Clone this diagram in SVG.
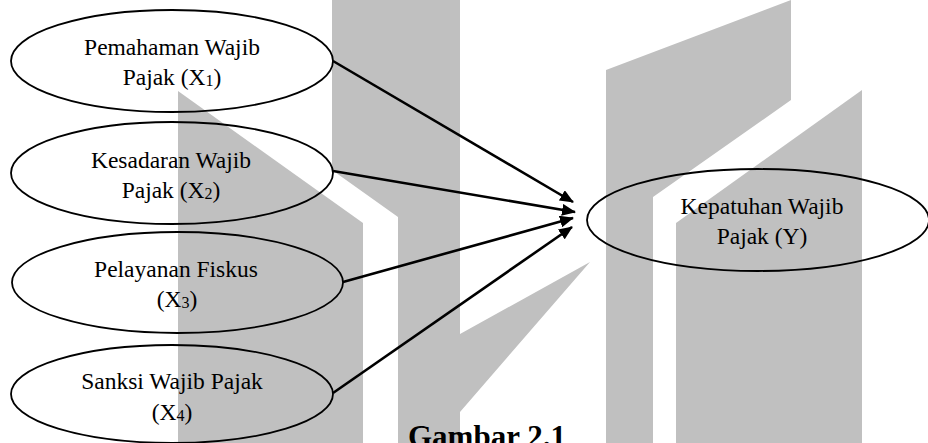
<svg xmlns="http://www.w3.org/2000/svg" width="928" height="443" viewBox="0 0 928 443">
<style>
.wm{fill:#c0c0c0;stroke:none}
.node ellipse{fill:none;stroke:#000;stroke-width:1.8}
.node text{font-family:"Liberation Serif","Times New Roman",serif;font-size:23.5px;fill:#000;text-anchor:middle}
.sub{font-size:16px}
.edge{stroke:#000;stroke-width:2.6;fill:none;marker-end:url(#ah)}
.cap{font-family:"Liberation Serif","Times New Roman",serif;font-size:31px;font-weight:bold;fill:#000}
</style>
<defs>
<marker id="ah" markerUnits="userSpaceOnUse" markerWidth="14" markerHeight="12" refX="13" refY="6" orient="auto" viewBox="0 0 14 12">
<path d="M0,0 L14,6 L0,12 z" fill="#000"/>
</marker>
</defs>
<rect width="928" height="443" fill="#fff"/>
<g id="watermark">
<polygon class="wm" points="178,91 363,223 363,443 178,443"/>
<polygon class="wm" points="332,0 460,0 460,334 590,262 460,412 460,443 398,443 398,217 332,170"/>
<polygon class="wm" points="606,70 791,0 791,100 653,197 653,443 606,443"/>
<polygon class="wm" points="862,90 862,443 676,443 676,223"/>
</g>
<g id="n1" class="node">
<ellipse cx="172" cy="61" rx="161" ry="51"/>
<text x="172" y="55">Pemahaman Wajib</text>
<text x="172" y="85">Pajak (X<tspan class="sub" dy="1">1</tspan><tspan dy="-1">)</tspan></text>
</g>
<g id="n2" class="node">
<ellipse cx="172" cy="173" rx="161" ry="51"/>
<text x="171" y="168">Kesadaran Wajib</text>
<text x="171" y="198">Pajak (X<tspan class="sub" dy="1">2</tspan><tspan dy="-1">)</tspan></text>
</g>
<g id="n3" class="node">
<ellipse cx="177.5" cy="282.5" rx="165.5" ry="50.5"/>
<text x="176" y="277">Pelayanan Fiskus</text>
<text x="177" y="307">(X<tspan class="sub" dy="1">3</tspan><tspan dy="-1">)</tspan></text>
</g>
<g id="n4" class="node">
<ellipse cx="172" cy="394" rx="161" ry="49"/>
<text x="172" y="389">Sanksi Wajib Pajak</text>
<text x="172" y="420">(X<tspan class="sub" dy="1">4</tspan><tspan dy="-1">)</tspan></text>
</g>
<g id="ny" class="node">
<ellipse cx="758" cy="220" rx="171" ry="51"/>
<text x="762" y="214">Kepatuhan Wajib</text>
<text x="762" y="244">Pajak (Y)</text>
</g>
<g id="edges">
<line class="edge" x1="333" y1="61" x2="573" y2="202"/>
<line class="edge" x1="333" y1="171" x2="575" y2="212"/>
<line class="edge" x1="343" y1="282" x2="573" y2="218"/>
<line class="edge" x1="333" y1="393" x2="572" y2="227"/>
</g>
<text class="cap" x="408" y="447">Gambar 2.1</text>
</svg>
